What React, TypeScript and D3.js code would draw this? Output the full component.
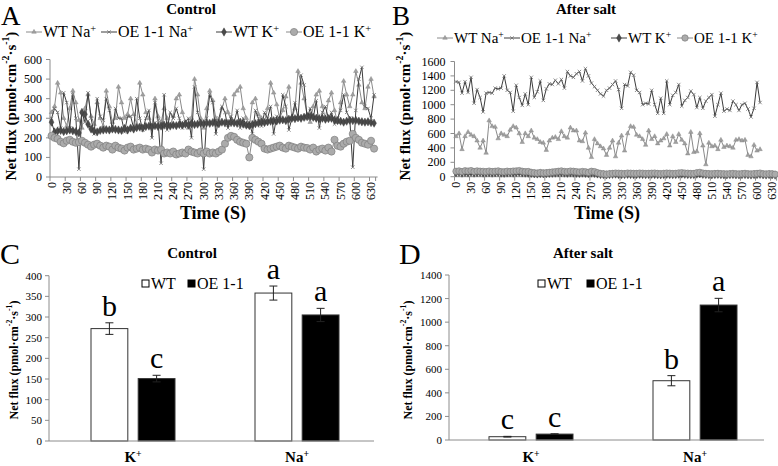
import React from 'react';
import * as d3 from 'd3';

const FONT = "'Liberation Serif','Times New Roman',serif";
const AXIS = '#8c8c8c';

// ---------- data ----------
const timePoints = d3.range(0, 637, 6); // category axis: every 6 s
const timeTickLabels = ['0','30','60','90','120','150','180','210','240','270','300','330','360','390','420','450','480','510','540','570','600','630'];
const ctrlYTicks = [0, 100, 200, 300, 400, 500, 600];
const saltYTicks = [0, 200, 400, 600, 800, 1000, 1200, 1400, 1600];
const seriesLabels = ['WT Na', 'OE 1-1 Na', 'WT K', 'OE 1-1 K'];

const ctrlWTNa = [
  330,360,480,430,300,260,350,440,380,290,
  250,350,420,310,270,380,300,260,440,360,
  280,300,460,380,300,320,400,320,270,480,
  420,330,300,260,400,310,280,350,300,260,
  310,400,420,330,280,250,300,500,420,300,
  250,350,440,390,300,280,350,400,330,290,
  420,440,460,350,300,260,380,400,320,300,
  280,350,480,430,370,300,340,410,460,300,
  350,540,480,400,320,280,360,420,440,360,
  300,390,430,340,280,380,490,420,360,420,
  540,470,380,350,460,500,410];
const ctrlOENa = [
  300,350,330,250,430,380,250,420,300,40,
  330,280,430,300,220,400,310,290,400,340,
  240,350,300,300,230,310,310,250,400,300,
  240,300,340,200,380,290,70,420,240,330,
  300,350,300,250,280,300,200,460,330,280,
  40,300,420,380,220,300,360,330,250,310,
  280,340,250,300,260,280,220,340,300,260,
  330,300,360,220,310,300,420,360,240,300,
  380,300,520,470,300,350,300,390,250,330,
  360,300,330,270,300,340,420,330,300,50,
  340,500,560,360,350,300,420];
const ctrlWTK = [
  280,230,235,238,232,236,240,236,232,225,
  330,320,270,245,235,230,238,240,242,240,
  245,243,240,238,248,240,250,245,252,255,
  250,258,260,255,262,258,260,265,262,260,
  265,262,268,265,270,266,272,268,270,275,
  272,276,274,278,275,272,280,276,274,278,
  276,274,280,270,265,262,268,272,275,280,
  278,282,285,288,286,290,292,288,295,300,
  298,302,300,305,308,310,305,300,298,300,
  295,298,300,292,288,285,280,285,290,288,
  290,285,282,280,282,278,275];
const ctrlOEK = [
  210,200,195,180,172,185,190,180,175,178,
  185,175,165,155,165,170,160,150,160,155,
  140,160,150,145,135,150,155,140,145,150,
  140,145,140,125,140,135,140,120,125,120,
  130,115,120,125,120,140,130,125,120,130,
  120,130,120,125,120,130,140,170,200,210,
  205,190,180,175,170,100,200,190,180,170,
  145,140,145,150,155,160,150,145,160,155,
  150,145,155,150,148,140,150,130,140,145,
  135,150,130,190,160,155,170,180,185,220,
  200,190,175,170,165,185,145];

const saltWTNa = [
  560,600,380,560,620,580,560,500,400,500,
  330,780,700,690,530,600,580,560,650,700,
  680,600,480,600,560,640,540,520,480,470,
  370,500,540,550,520,630,560,540,680,640,
  640,500,490,610,400,270,520,460,420,390,
  300,400,500,280,470,570,360,600,700,690,
  580,560,520,440,640,520,560,460,500,530,
  590,430,560,480,590,510,460,320,620,340,
  350,600,430,170,470,420,430,380,510,410,
  430,420,400,510,520,500,510,300,280,440,
  360,380];
const saltOENa = [
  1320,1310,1160,1320,1170,1380,1020,1210,1100,900,
  1160,1170,1160,1230,1220,1230,1400,1200,1170,910,
  1270,1100,990,1150,1000,1380,1100,1180,1330,1060,
  1220,1290,1280,1340,1290,1350,1230,1460,1400,1380,
  1430,1460,1330,1500,1400,1300,1250,1200,1150,1120,
  1200,1230,1280,1330,1210,950,1280,1260,1450,1410,
  1200,1170,1000,1020,1010,1200,1000,880,1090,880,
  1330,1000,1130,1170,1280,980,1060,1100,1190,1140,
  960,1100,950,1050,1100,1140,840,1000,1160,910,
  940,920,1050,1000,920,1000,1020,940,830,950,
  1310,1030];
const saltWTK = [
  55,60,50,58,52,60,50,55,58,50,
  52,55,50,54,58,50,48,52,55,50,
  56,60,52,50,48,45,40,38,42,40,
  42,45,48,50,52,55,50,48,52,50,
  48,45,50,46,42,50,45,38,30,28,
  25,30,32,35,30,28,30,32,30,28,
  30,32,30,28,30,32,30,28,26,30,
  32,30,28,30,34,36,32,30,28,30,
  35,40,32,30,28,26,30,32,28,26,
  25,28,30,26,25,28,30,26,24,28,
  30,32,26,24,28,26,22];
const saltOEK = [
  75,80,70,82,78,85,72,80,76,74,
  70,78,72,75,80,70,68,76,72,78,
  80,85,75,70,72,60,55,50,58,52,
  55,60,65,70,75,80,72,70,78,75,
  70,65,72,68,60,75,70,55,45,40,
  35,42,45,50,48,45,42,50,48,46,
  45,50,48,44,46,48,50,45,42,46,
  50,48,44,46,52,55,50,48,45,44,
  55,60,50,45,42,40,44,46,42,40,
  38,42,45,40,38,42,46,40,38,42,
  45,50,40,38,42,40,35];

const ions = ['K', 'Na'];
const genotypes = ['WT', 'OE 1-1'];
const ctrlBarWT = [272, 358];
const ctrlBarOE = [151, 305];
const ctrlErrWT = [14, 17];
const ctrlErrOE = [8, 16];
const ctrlLetWT = ['b', 'a'];
const ctrlLetOE = ['c', 'a'];
const ctrlBarTicks = [0, 50, 100, 150, 200, 250, 300, 350, 400];
const saltBarWT = [28, 503];
const saltBarOE = [50, 1145];
const saltErrWT = [3, 43];
const saltErrOE = [3, 57];
const saltLetWT = ['c', 'b'];
const saltLetOE = ['c', 'a'];
const saltBarTicks = [0, 200, 400, 600, 800, 1000, 1200, 1400];

// ---------- helpers ----------
type MarkerKind = 'tri' | 'x' | 'dia' | 'circ';

const triPath = d3.symbol(d3.symbolTriangle, 9)() as string;
const diaPath = d3.symbol(d3.symbolDiamond, 20)() as string;

function Marker({ kind, x, y, r }: { kind: MarkerKind; x: number; y: number; r: number }) {
  const t = `translate(${x},${y})`;
  if (kind === 'tri') return <path d={triPath} transform={t} fill="#a0a0a0" stroke="#808080" strokeWidth={0.4} />;
  if (kind === 'x') return <path d="M-1.7,-1.7L1.7,1.7M-1.7,1.7L1.7,-1.7" transform={t} stroke="#707070" strokeWidth={0.8} fill="none" />;
  if (kind === 'dia') return <path d={diaPath} transform={t} fill="#4a4a4a" stroke="#333" strokeWidth={0.4} />;
  return <circle cx={x} cy={y} r={r} fill="#ababab" stroke="#7f7f7f" strokeWidth={0.7} />;
}

function YTitle({ x, y, size }: { x: number; y: number; size: number }) {
  return (
    <text transform={`translate(${x},${y}) rotate(-90)`} textAnchor="middle" dominantBaseline="central"
      fontFamily={FONT} fontWeight="bold" fontSize={size}>
      Net flux (pmol·cm<tspan baselineShift="super" fontSize="0.65em">-2</tspan>·s<tspan baselineShift="super" fontSize="0.65em">-1</tspan>)
    </text>
  );
}

type SeriesDef = { label: string; values: number[]; stroke: string; marker: MarkerKind };

type LineCfg = {
  letter: string; letterX: number; title: string; titleX: number;
  legendY: number; legendXs: number[]; legendSize: number;
  x0: number; x1: number; yTop: number; yBottom: number; yTicks: number[];
  yTitleX: number; xTitleX: number; circR: number; labelOff: number;
  series: SeriesDef[];
};

function LinePanel({ c }: { c: LineCfg }) {
  const x = d3.scaleBand<number>().domain(timePoints).range([c.x0, c.x1]);
  const bw = x.bandwidth();
  const cx = (i: number) => (x(timePoints[i]) as number) + bw / 2;
  const yMax = c.yTicks[c.yTicks.length - 1];
  const y = d3.scaleLinear().domain([0, yMax]).range([c.yBottom, c.yTop]);
  const line = d3.line<number>().x((_, i) => cx(i)).y((d) => y(d));
  return (
    <g fontFamily={FONT}>
      <text x={c.letterX} y={24.5} fontSize={27}>{c.letter}</text>
      <text x={c.titleX} y={14} textAnchor="middle" fontWeight="bold" fontSize={15}>{c.title}</text>
      {c.series.map((s, k) => {
        const tx = c.legendXs[k];
        const ly = c.legendY - 5;
        return (
          <g key={'lg' + k}>
            <line x1={tx - 17} x2={tx - 1} y1={ly} y2={ly} stroke={s.stroke} strokeWidth={1} />
            <Marker kind={s.marker} x={tx - 9} y={ly} r={c.circR} />
            <text x={tx} y={c.legendY} fontSize={c.legendSize}>
              {s.label}<tspan baselineShift="super" fontSize="0.65em">+</tspan>
            </text>
          </g>
        );
      })}
      {/* y axis */}
      <line x1={c.x0} x2={c.x0} y1={c.yTop} y2={c.yBottom} stroke={AXIS} />
      {c.yTicks.map((t) => (
        <g key={'yt' + t}>
          <line x1={c.x0 - 4} x2={c.x0} y1={y(t)} y2={y(t)} stroke={AXIS} />
          <text x={c.x0 - c.labelOff} y={y(t)} textAnchor="end" dominantBaseline="central" fontSize={12}>{t}</text>
        </g>
      ))}
      {/* x axis */}
      <line x1={c.x0} x2={c.x1 + 2} y1={c.yBottom} y2={c.yBottom} stroke={AXIS} />
      {timeTickLabels.map((lab, j) => {
        const i = j * 5;
        const left = x(timePoints[i]) as number;
        return (
          <g key={'xt' + j}>
            <line x1={left} x2={left} y1={c.yBottom} y2={c.yBottom + 4} stroke={AXIS} />
            <text transform={`translate(${cx(i)},${c.yBottom + 5}) rotate(-90)`} textAnchor="end"
              dominantBaseline="central" fontSize={12}>{lab}</text>
          </g>
        );
      })}
      <line x1={c.x1} x2={c.x1} y1={c.yBottom} y2={c.yBottom + 4} stroke={AXIS} />
      {/* series */}
      {c.series.map((s, k) => (
        <g key={'s' + k}>
          <path d={line(s.values) as string} fill="none" stroke={s.stroke} strokeWidth={1} />
          {s.values.map((v, i) => <Marker key={i} kind={s.marker} x={cx(i)} y={y(v)} r={c.circR} />)}
        </g>
      ))}
      <YTitle x={c.yTitleX} y={106} size={15} />
      <text x={c.xTitleX} y={219} textAnchor="middle" fontWeight="bold" fontSize={18}>Time (S)</text>
    </g>
  );
}

type BarCfg = {
  letter: string; letterX: number; title: string; titleX: number;
  axisX: number; axisEnd: number; bandStart: number; bandEnd: number;
  yTop: number; yBottom: number; yTicks: number[]; yTitleX: number;
  wt: number[]; oe: number[]; errWT: number[]; errOE: number[]; letWT: string[]; letOE: string[];
  legendX: number[];
};

function BarPanel({ c }: { c: BarCfg }) {
  const xb = d3.scaleBand<string>().domain(ions).range([c.bandStart, c.bandEnd]);
  const yMax = c.yTicks[c.yTicks.length - 1];
  const y = d3.scaleLinear().domain([0, yMax]).range([c.yBottom, c.yTop]);
  const pairW = 84;
  return (
    <g fontFamily={FONT}>
      <text x={c.letterX} y={264} fontSize={30}>{c.letter}</text>
      <text x={c.titleX} y={258} textAnchor="middle" fontWeight="bold" fontSize={15}>{c.title}</text>
      <line x1={c.axisX} x2={c.axisX} y1={c.yTop} y2={c.yBottom} stroke={AXIS} />
      {c.yTicks.map((t) => (
        <g key={'t' + t}>
          <line x1={c.axisX - 4} x2={c.axisX} y1={y(t)} y2={y(t)} stroke={AXIS} />
          <text x={c.axisX - 7} y={y(t)} textAnchor="end" dominantBaseline="central" fontSize={11}>{t}</text>
        </g>
      ))}
      {ions.map((ion, k) => {
        const center = (xb(ion) as number) + xb.bandwidth() / 2;
        const inner = d3.scaleBand<string>().domain(genotypes).range([center - pairW / 2, center + pairW / 2]).paddingInner(0.22);
        const bars = [
          { g: 'WT', v: c.wt[k], e: c.errWT[k], l: c.letWT[k], fill: '#fff' },
          { g: 'OE 1-1', v: c.oe[k], e: c.errOE[k], l: c.letOE[k], fill: '#000' },
        ];
        return (
          <g key={ion}>
            {bars.map((b) => {
              const bx = inner(b.g) as number;
              const w = inner.bandwidth();
              const mid = bx + w / 2;
              const top = y(b.v);
              const et = y(b.v + b.e);
              const eb = y(b.v - b.e);
              return (
                <g key={b.g}>
                  <rect x={bx} y={top} width={w} height={c.yBottom - top} fill={b.fill} stroke="#333" strokeWidth={1} />
                  <line x1={mid} x2={mid} y1={et} y2={eb} stroke="#222" />
                  <line x1={mid - 4} x2={mid + 4} y1={et} y2={et} stroke="#222" />
                  <line x1={mid - 4} x2={mid + 4} y1={eb} y2={eb} stroke="#222" />
                  <text x={mid} y={et - 7} textAnchor="middle" fontSize={30}>{b.l}</text>
                </g>
              );
            })}
            <text x={center} y={462} textAnchor="middle" fontWeight="bold" fontSize={15}>
              {ion}<tspan baselineShift="super" fontSize="0.65em">+</tspan>
            </text>
          </g>
        );
      })}
      <line x1={c.axisX} x2={c.axisEnd} y1={c.yBottom} y2={c.yBottom} stroke={AXIS} />
      {genotypes.map((g, k) => (
        <g key={'lg' + g}>
          <rect x={c.legendX[k]} y={280} width={7} height={7} fill={k === 0 ? '#fff' : '#000'} stroke="#000" strokeWidth={1} />
          <text x={c.legendX[k] + 9} y={289} fontSize={16}>{g}</text>
        </g>
      ))}
      <YTitle x={c.yTitleX} y={360} size={12} />
    </g>
  );
}

const panelA: LineCfg = {
  letter: 'A', letterX: 1, title: 'Control', titleX: 191,
  legendY: 37, legendXs: [43, 118, 233, 303], legendSize: 16,
  x0: 50, x1: 375.6, yTop: 59.5, yBottom: 177, yTicks: ctrlYTicks,
  yTitleX: 11, xTitleX: 213, circR: 3.6, labelOff: 8,
  series: [
    { label: seriesLabels[0], values: ctrlWTNa, stroke: '#8a8a8a', marker: 'tri' },
    { label: seriesLabels[1], values: ctrlOENa, stroke: '#3c3c3c', marker: 'x' },
    { label: seriesLabels[2], values: ctrlWTK, stroke: '#3c3c3c', marker: 'dia' },
    { label: seriesLabels[3], values: ctrlOEK, stroke: '#8a8a8a', marker: 'circ' },
  ],
};

const panelB: LineCfg = {
  letter: 'B', letterX: 392, title: 'After salt', titleX: 586,
  legendY: 43, legendXs: [454, 521, 628, 694], legendSize: 15,
  x0: 454.5, x1: 776.6, yTop: 61.5, yBottom: 176.7, yTicks: saltYTicks,
  yTitleX: 405, xTitleX: 607, circR: 3.2, labelOff: 9,
  series: [
    { label: seriesLabels[0], values: saltWTNa, stroke: '#8a8a8a', marker: 'tri' },
    { label: seriesLabels[1], values: saltOENa, stroke: '#3c3c3c', marker: 'x' },
    { label: seriesLabels[2], values: saltWTK, stroke: '#3c3c3c', marker: 'dia' },
    { label: seriesLabels[3], values: saltOEK, stroke: '#8a8a8a', marker: 'circ' },
  ],
};

const panelC: BarCfg = {
  letter: 'C', letterX: 0, title: 'Control', titleX: 192,
  axisX: 49, axisEnd: 374, bandStart: 51, bandEnd: 379,
  yTop: 275.7, yBottom: 441, yTicks: ctrlBarTicks, yTitleX: 14,
  wt: ctrlBarWT, oe: ctrlBarOE, errWT: ctrlErrWT, errOE: ctrlErrOE, letWT: ctrlLetWT, letOE: ctrlLetOE,
  legendX: [142, 188],
};

const panelD: BarCfg = {
  letter: 'D', letterX: 399, title: 'After salt', titleX: 583,
  axisX: 449, axisEnd: 764, bandStart: 449, bandEnd: 777,
  yTop: 275, yBottom: 440, yTicks: saltBarTicks, yTitleX: 408,
  wt: saltBarWT, oe: saltBarOE, errWT: saltErrWT, errOE: saltErrOE, letWT: saltLetWT, letOE: saltLetOE,
  legendX: [538, 587],
};

export default function App() {
  return (
    <svg width={778} height={466} style={{ position: 'absolute', left: 0, top: 0, background: '#fff' }}>
      <rect width={778} height={466} fill="#fff" />
      <LinePanel c={panelA} />
      <LinePanel c={panelB} />
      <BarPanel c={panelC} />
      <BarPanel c={panelD} />
    </svg>
  );
}
